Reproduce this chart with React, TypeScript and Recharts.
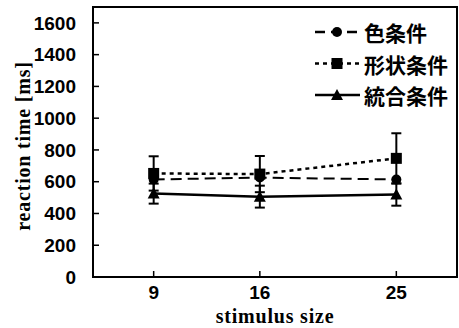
import React from 'react';
import {
    LineChart,
    Line,
    XAxis,
    YAxis,
    ErrorBar,
    ReferenceArea,
    Label,
} from 'recharts';

// stimulus sizes (x)
const sizes = [9, 16, 25];
// mean reaction times [ms]
const colorRt = [614, 626, 614];
const shapeRt = [652, 648, 747];
const combinedRt = [525, 506, 519];
// error bar half-lengths
const shapeErr = [108, 114, 158];
const combinedErr = [63, 69, 70];

const yTicks = [0, 200, 400, 600, 800, 1000, 1200, 1400, 1600];
const xTicks = [9, 16, 25];

const chartData = sizes.map((s, i) => ({
    size: s,
    color: colorRt[i],
    shape: shapeRt[i],
    combined: combinedRt[i],
    shapeErr: shapeErr[i],
    combinedErr: combinedErr[i],
}));

const legendItems = [
    { name: '色条件', dash: '10 6', marker: 'circle' },
    { name: '形状条件', dash: '4 4', marker: 'square' },
    { name: '統合条件', dash: undefined, marker: 'triangle' },
];

const Marker = ({ cx, cy, kind }: any) => {
    if (cx == null || cy == null) return null;
    if (kind === 'square') {
        return <rect x={cx - 5.5} y={cy - 5.5} width={11} height={11} fill="#000" />;
    }
    if (kind === 'triangle') {
        return (
            <path
                d={`M${cx},${cy - 6} L${cx + 6},${cy + 5} L${cx - 6},${cy + 5} Z`}
                fill="#000"
            />
        );
    }
    return <circle cx={cx} cy={cy} r={5} fill="#000" />;
};

const tickFont = {
    fontFamily: '"Liberation Sans", Arial, sans-serif',
    fontWeight: 700,
    fontSize: 19,
    fill: '#000',
};

const labelFont = {
    fontFamily: '"Liberation Serif", serif',
    fontWeight: 700,
    fontSize: 20,
    letterSpacing: 0.8,
};

export default function App() {
    return (
        <div
            style={{
                position: 'absolute',
                left: 0,
                top: 0,
                width: 459,
                height: 328,
                background: '#fff',
            }}
        >
            <LineChart
                width={459}
                height={328}
                data={chartData}
                margin={{ top: 7, right: 2, left: 0, bottom: 0 }}
            >
                <XAxis
                    dataKey="size"
                    type="number"
                    domain={[5, 29]}
                    ticks={xTicks}
                    height={51}
                    axisLine={{ stroke: '#000', strokeWidth: 2 }}
                    tickLine={{ stroke: '#000', strokeWidth: 1.5 }}
                    tickSize={-6}
                    tickMargin={15}
                    tick={tickFont}
                >
                    <Label
                        content={({ viewBox }: any) => (
                            <text
                                x={viewBox.x + viewBox.width / 2}
                                y={viewBox.y + 39}
                                textAnchor="middle"
                                dominantBaseline="central"
                                style={labelFont}
                            >
                                stimulus size
                            </text>
                        )}
                    />
                </XAxis>
                <YAxis
                    type="number"
                    domain={[0, 1700]}
                    ticks={yTicks}
                    width={93}
                    axisLine={{ stroke: '#000', strokeWidth: 2 }}
                    tickLine={{ stroke: '#000', strokeWidth: 1.5 }}
                    tickSize={-6}
                    tickMargin={23}
                    tick={tickFont}
                >
                    <Label
                        content={({ viewBox }: any) => {
                            const cx = 23;
                            const cy = viewBox.y + viewBox.height / 2 + 4;
                            return (
                                <text
                                    x={cx}
                                    y={cy}
                                    transform={`rotate(-90 ${cx} ${cy})`}
                                    textAnchor="middle"
                                    dominantBaseline="central"
                                    style={labelFont}
                                >
                                    reaction time [ms]
                                </text>
                            );
                        }}
                    />
                </YAxis>

                <ReferenceArea
                    x1={5}
                    x2={29}
                    y1={0}
                    y2={1700}
                    fill="none"
                    stroke="#000"
                    strokeWidth={2}
                    ifOverflow="visible"
                />

                <Line
                    dataKey="color"
                    stroke="#000"
                    strokeWidth={2}
                    strokeDasharray="11 6"
                    dot={(p: any) => <Marker key={`c${p.index}`} {...p} kind="circle" />}
                    isAnimationActive={false}
                />
                <Line
                    dataKey="shape"
                    stroke="#000"
                    strokeWidth={2.5}
                    strokeDasharray="4 4"
                    dot={(p: any) => <Marker key={`s${p.index}`} {...p} kind="square" />}
                    isAnimationActive={false}
                >
                    <ErrorBar
                        dataKey="shapeErr"
                        direction="y"
                        width={5}
                        stroke="#000"
                        strokeWidth={2}
                        isAnimationActive={false}
                    />
                </Line>
                <Line
                    dataKey="combined"
                    stroke="#000"
                    strokeWidth={2.5}
                    dot={(p: any) => <Marker key={`t${p.index}`} {...p} kind="triangle" />}
                    isAnimationActive={false}
                >
                    <ErrorBar
                        dataKey="combinedErr"
                        direction="y"
                        width={5}
                        stroke="#000"
                        strokeWidth={2}
                        isAnimationActive={false}
                    />
                </Line>
            </LineChart>

            {/* legend, top right inside the frame */}
            <svg
                width={146}
                height={95}
                style={{ position: 'absolute', left: 310, top: 14, overflow: 'visible' }}
            >
                {legendItems.map((item, i) => {
                    const y = 18 + i * 31.5;
                    return (
                        <g key={item.name}>
                            <line
                                x1={5}
                                x2={50}
                                y1={y}
                                y2={y}
                                stroke="#000"
                                strokeWidth={2.5}
                                strokeDasharray={item.dash}
                            />
                            <Marker cx={27} cy={y} kind={item.marker} />
                            <text
                                x={54}
                                y={y}
                                dominantBaseline="central"
                                style={{
                                    fontFamily: '"Noto Sans CJK JP", sans-serif',
                                    fontWeight: 700,
                                    fontSize: 21,
                                }}
                            >
                                {item.name}
                            </text>
                        </g>
                    );
                })}
            </svg>
        </div>
    );
}
